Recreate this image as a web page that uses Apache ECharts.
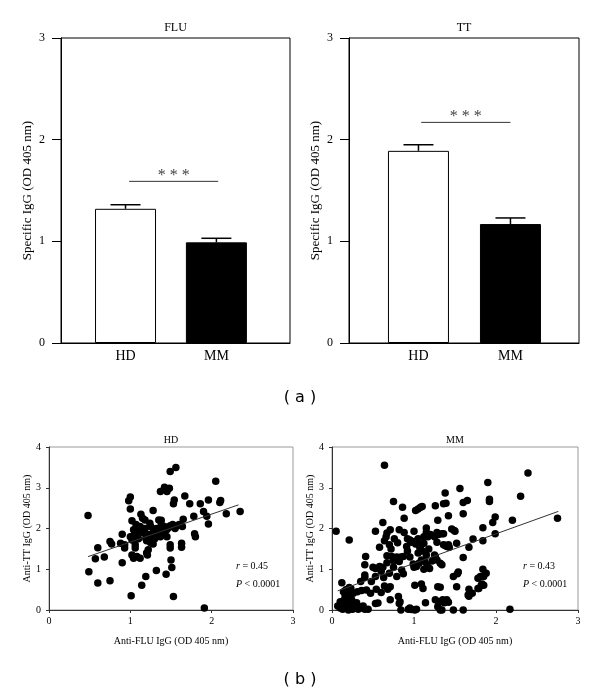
<!DOCTYPE html>
<html><head><meta charset="utf-8">
<script src="https://cdn.jsdelivr.net/npm/echarts@6/dist/echarts.min.js"></script>
<style>html,body{margin:0;padding:0;background:#fff}#c{width:600px;height:695px}</style>
</head><body><div id="c"></div>
<script>
// ---------- data ----------
const barCategories = ['HD', 'MM'];
const barPositions = [1, 2];
const fluMeans = [1.32, 0.99];
const fluErrTops = [1.36, 1.03];
const ttMeans = [1.89, 1.17];
const ttErrTops = [1.95, 1.23];
const fluSig = [1.04, 2.02, 1.59];   // from x, to x, level
const ttSig = [1.03, 2.00, 2.17];
const panelTitles = ['FLU', 'TT', 'HD', 'MM'];

const hdX = [0.48,0.49,0.57,0.60,0.60,0.68,0.75,0.75,0.77,0.88,0.90,0.90,0.93,0.93,0.98,1.00,1.00,1.01,1.02,1.02,1.02,1.04,1.04,1.06,1.06,1.08,1.08,1.12,1.13,1.14,1.14,1.18,1.19,1.19,1.21,1.22,1.24,1.26,1.28,1.28,1.32,1.35,1.37,1.37,1.40,1.42,1.44,1.45,1.48,1.49,1.49,1.49,1.49,1.50,1.51,1.53,1.53,1.54,1.56,1.57,1.63,1.63,1.65,1.67,1.73,1.78,1.79,1.80,1.86,1.90,1.91,1.94,1.96,1.96,2.05,2.10,2.11,2.18,2.35,
  1.05,1.10,1.12,1.15,1.18,1.20,1.22,1.25,1.28,1.30,1.32,1.35,1.38,1.40,1.42,1.44,1.46,1.50,1.52,1.55,1.60,1.10,1.15,1.25,1.45,1.38,1.00,1.07,1.64,1.20];
const hdY = [2.32,0.94,1.26,1.53,0.66,1.30,0.72,1.68,1.62,1.64,1.86,1.16,1.52,1.60,2.68,2.77,2.48,0.35,2.19,1.72,1.35,1.97,1.27,1.60,1.52,1.80,1.31,1.27,2.35,1.97,0.61,2.21,0.82,1.76,1.35,1.48,2.13,1.80,2.44,1.62,0.97,2.21,1.80,2.91,1.97,3.01,0.88,2.91,2.99,3.40,2.07,1.60,1.52,1.23,1.04,0.33,2.61,2.70,3.50,2.07,1.64,1.54,2.23,2.80,2.61,2.30,1.87,1.80,2.61,2.42,0.05,2.30,2.70,2.11,3.16,2.64,2.69,2.36,2.42,
  1.85,1.95,2.05,1.90,2.00,1.70,1.85,2.05,1.90,1.75,2.00,1.85,2.10,1.90,2.05,1.95,2.00,2.05,2.10,2.00,2.10,1.75,2.25,1.65,1.80,2.20,1.80,2.10,2.05,1.40];

const mmX = [0.05,0.21,0.12,0.64,0.62,0.75,0.86,0.88,0.53,0.58,0.67,0.71,0.82,0.88,1.00,1.02,1.05,1.08,1.10,1.26,1.36,1.39,1.38,1.56,1.60,1.65,1.60,1.29,1.42,1.90,1.92,1.92,2.30,2.39,2.20,1.99,1.96,2.75,1.99,1.84,1.84,1.72,1.67,1.52,1.49,1.40,1.43,1.36,1.28,1.28,1.15,1.15,1.17,1.12,1.09,1.07,1.02,0.95,0.97,0.91,0.87,0.79,0.73,0.75,0.67,0.62,0.58,0.53,0.41,0.40,0.40,0.40,0.53,0.67,0.82,0.79,0.85,0.87,0.99,1.03,1.09,1.13,1.16,1.19,1.26,1.28,1.32,1.01,1.09,1.11,1.14,1.32,1.40,1.37,1.26,1.29,1.32,1.48,1.53,1.52,1.60,1.48,1.60,1.67,1.66,1.78,1.83,1.85,1.84,1.85,1.88,2.17,1.01,0.97,0.93,0.84,0.82,0.71,0.68,0.71,0.64,0.60,0.54,0.53,0.47,0.42,0.36,0.31,0.26,0.44,0.33,0.30,
  0.07,0.10,0.12,0.13,0.15,0.15,0.16,0.17,0.18,0.18,0.19,0.20,0.20,0.21,0.21,0.22,0.22,0.24,0.25,0.26,0.28,0.30,0.32,0.35,0.38,0.40,0.14,0.17,0.10,
  0.66,0.64,0.70,0.76,0.80,0.72,0.92,1.00,1.05,1.12,1.20,1.25,1.30,1.36,0.78,0.84,1.00,1.06,1.12,1.22,1.25,1.29,0.81,0.83,0.95,1.03,1.30,1.35,
  1.34,1.46,1.50,1.38,1.42,1.34,1.54,1.81,1.78,1.82,1.79,1.71,1.67,1.36,1.42,1.34,
  0.50,0.60,0.23,0.56,0.48,0.35,0.63,0.70,0.75,0.92,0.95,1.05,1.10,1.18,1.15];
const mmY = [1.93,1.72,0.67,3.55,2.15,2.66,2.52,2.25,1.93,1.54,1.89,1.97,1.97,1.90,1.93,2.44,2.48,2.52,2.54,2.56,2.61,2.62,2.87,2.98,2.64,2.69,2.36,2.20,2.31,3.13,2.72,2.66,2.79,3.36,2.20,2.28,2.15,2.25,1.87,2.02,1.70,1.74,1.54,1.64,1.95,1.56,1.54,1.87,1.90,1.66,2.01,1.90,1.80,1.64,1.60,1.54,1.62,1.72,1.66,1.56,1.31,1.30,1.31,1.21,1.16,1.05,1.07,1.02,1.31,1.11,0.86,0.80,0.82,1.33,1.19,0.82,0.98,0.89,1.13,1.07,1.23,1.19,1.11,1.02,1.31,1.23,1.15,0.61,0.64,0.53,0.18,0.56,0.25,0.18,0.25,0.08,0.00,0.82,0.89,0.57,1.29,0.00,0.00,0.51,0.37,0.53,0.64,0.82,1.00,0.61,0.90,0.02,0.00,0.01,0.02,0.00,0.16,0.25,0.51,0.57,0.59,0.43,0.51,0.16,0.41,0.49,0.48,0.45,0.41,0.02,0.08,0.04,
  0.10,0.05,0.15,0.02,0.08,0.25,0.35,0.12,0.05,0.20,0.45,0.30,0.00,0.15,0.55,0.38,0.08,0.25,0.02,0.12,0.05,0.18,0.02,0.05,0.10,0.02,0.45,0.50,0.20,
  1.80,1.70,1.60,1.75,1.65,1.50,1.75,1.68,1.75,1.80,1.85,1.80,1.85,1.60,1.25,1.30,1.05,1.15,1.00,1.20,1.35,0.57,0.33,0.20,0.05,0.02,0.20,0.25,
  1.87,1.99,1.93,1.58,1.60,1.11,0.93,0.82,0.78,0.61,0.53,0.41,0.34,0.20,0.19,0.00,
  1.05,0.95,0.53,0.17,0.70,0.70,0.80,0.90,1.05,1.45,1.30,1.40,1.45,1.50,1.35];

const hdFit = [[0.48, 1.31], [2.33, 2.58]];
const mmFit = [[0.07, 0.47], [2.76, 2.42]];
const hdStats = ['0.45', '< 0.0001'];
const mmStats = ['0.43', '< 0.0001'];

// ---------- chart ----------
const SERIF = '"Liberation Serif", "Times New Roman", serif';
const chart = echarts.init(document.getElementById('c'), null, {renderer: 'canvas'});

function errRender(params, api) {
  const x = api.value(0), m = api.value(1), t = api.value(2);
  const p0 = api.coord([x, m]), p1 = api.coord([x, t]);
  const w = 15;
  return {type: 'group', children: [
    {type: 'line', shape: {x1: p0[0], y1: p0[1], x2: p1[0], y2: p1[1]}, style: {stroke: '#000', lineWidth: 1.5}},
    {type: 'line', shape: {x1: p1[0] - w, y1: p1[1], x2: p1[0] + w, y2: p1[1]}, style: {stroke: '#000', lineWidth: 1.5}}
  ]};
}
function sigRender(params, api) {
  const a = api.coord([api.value(0), api.value(2)]);
  const b = api.coord([api.value(1), api.value(2)]);
  return {type: 'group', children: [
    {type: 'line', shape: {x1: a[0], y1: a[1], x2: b[0], y2: b[1]}, style: {stroke: '#333', lineWidth: 1}},
    {type: 'text', x: (a[0] + b[0]) / 2, y: a[1] + 2,
     style: {text: '* * *', font: '16px ' + SERIF, fill: '#444', align: 'center', verticalAlign: 'bottom'}}
  ]};
}

function barAxisX(grid, min, max) {
  return {gridIndex: grid, type: 'value', min: min, max: max,
    axisLine: {show: true, lineStyle: {color: '#000', width: 1}},
    axisTick: {show: false}, splitLine: {show: false},
    axisLabel: {customValues: barPositions, formatter: v => barCategories[Math.round(v) - 1],
      fontFamily: SERIF, fontSize: 14, color: '#000', margin: 6}};
}
function barAxisY(grid) {
  return {gridIndex: grid, type: 'value', min: 0, max: 3, interval: 1,
    axisLine: {show: true, lineStyle: {color: '#000', width: 1}},
    axisTick: {show: true, inside: false, length: 9, lineStyle: {color: '#000'}},
    splitLine: {show: false},
    axisLabel: {fontFamily: SERIF, fontSize: 12, color: '#000', margin: 16},
    name: 'Specific IgG (OD 405 nm)', nameLocation: 'middle', nameGap: 27,
    nameTextStyle: {fontFamily: SERIF, fontSize: 13, color: '#000'}};
}
function scAxisX(grid) {
  return {gridIndex: grid, type: 'value', min: 0, max: 3, interval: 1,
    axisLine: {show: true, lineStyle: {color: '#333', width: 1}},
    axisTick: {show: true, length: 3, lineStyle: {color: '#333'}},
    splitLine: {show: false},
    axisLabel: {fontFamily: SERIF, fontSize: 10, color: '#000', margin: 6},
    name: 'Anti-FLU IgG (OD 405 nm)', nameLocation: 'middle', nameGap: 26,
    nameTextStyle: {fontFamily: SERIF, fontSize: 10, color: '#000'}};
}
function scAxisY(grid, gap) {
  return {gridIndex: grid, type: 'value', min: 0, max: 4, interval: 1,
    axisLine: {show: true, lineStyle: {color: '#333', width: 1}},
    axisTick: {show: true, length: 3, lineStyle: {color: '#333'}},
    splitLine: {show: false},
    axisLabel: {fontFamily: SERIF, fontSize: 10, color: '#000', margin: 8},
    name: 'Anti-TT IgG (OD 405 nm)', nameLocation: 'middle', nameGap: gap,
    nameTextStyle: {fontFamily: SERIF, fontSize: 10, color: '#000'}};
}

function barData(means) {
  return means.map((m, i) => ({
    value: [barPositions[i], m],
    itemStyle: i === 0 ? {color: '#fff', borderColor: '#000', borderWidth: 1} : {color: '#000', borderColor: '#000', borderWidth: 1}
  }));
}
function errData(means, tops) {
  return means.map((m, i) => [barPositions[i], m, tops[i]]);
}
function zip(xs, ys) { return xs.map((x, i) => [x, ys[i]]); }

function statText(x, y, stats) {
  return [
    {type: 'text', x: x, y: y, style: {text: '{i|r} = ' + stats[0], rich: {i: {fontStyle: 'italic', font: 'italic 10px ' + SERIF}},
      font: '10px ' + SERIF, fill: '#000', align: 'left', verticalAlign: 'middle'}},
    {type: 'text', x: x, y: y + 18, style: {text: '{i|P} ' + stats[1], rich: {i: {fontStyle: 'italic', font: 'italic 10px ' + SERIF}},
      font: '10px ' + SERIF, fill: '#000', align: 'left', verticalAlign: 'middle'}}
  ];
}
function centerText(x, y, text, font) {
  return {type: 'text', x: x, y: y, style: {text: text, font: font, fill: '#000', align: 'center', verticalAlign: 'middle'}};
}

const option = {
  backgroundColor: '#fff',
  animation: false,
  grid: [
    {left: 61, top: 38, width: 229, height: 305, show: true, borderColor: '#000', borderWidth: 1},
    {left: 349, top: 38, width: 230, height: 305, show: true, borderColor: '#000', borderWidth: 1},
    {left: 49, top: 447, width: 244, height: 163, show: true, borderColor: '#999', borderWidth: 1},
    {left: 332, top: 447, width: 246, height: 163, show: true, borderColor: '#999', borderWidth: 1}
  ],
  xAxis: [barAxisX(0, 0.29, 2.81), barAxisX(1, 0.245, 2.745), scAxisX(2), scAxisX(3)],
  yAxis: [barAxisY(0), barAxisY(1), scAxisY(2, 16), scAxisY(3, 12)],
  series: [
    {type: 'bar', xAxisIndex: 0, yAxisIndex: 0, barWidth: 61, data: barData(fluMeans), z: 2},
    {type: 'custom', xAxisIndex: 0, yAxisIndex: 0, renderItem: errRender, data: errData(fluMeans, fluErrTops), encode: {x: 0, y: [1, 2]}, z: 3},
    {type: 'custom', xAxisIndex: 0, yAxisIndex: 0, renderItem: sigRender, data: [fluSig], encode: {x: [0, 1], y: 2}, z: 3},
    {type: 'bar', xAxisIndex: 1, yAxisIndex: 1, barWidth: 61, data: barData(ttMeans), z: 2},
    {type: 'custom', xAxisIndex: 1, yAxisIndex: 1, renderItem: errRender, data: errData(ttMeans, ttErrTops), encode: {x: 0, y: [1, 2]}, z: 3},
    {type: 'custom', xAxisIndex: 1, yAxisIndex: 1, renderItem: sigRender, data: [ttSig], encode: {x: [0, 1], y: 2}, z: 3},
    {type: 'scatter', xAxisIndex: 2, yAxisIndex: 2, symbol: 'circle', symbolSize: 7.5, itemStyle: {color: '#000', opacity: 1}, data: zip(hdX, hdY)},
    {type: 'line', xAxisIndex: 2, yAxisIndex: 2, symbol: 'none', lineStyle: {color: '#333', width: 1}, data: hdFit, z: 3},
    {type: 'scatter', xAxisIndex: 3, yAxisIndex: 3, symbol: 'circle', symbolSize: 7.5, itemStyle: {color: '#000', opacity: 1}, data: zip(mmX, mmY)},
    {type: 'line', xAxisIndex: 3, yAxisIndex: 3, symbol: 'none', lineStyle: {color: '#333', width: 1}, data: mmFit, z: 3}
  ],
  graphic: [
    centerText(175.5, 28, panelTitles[0], '12px ' + SERIF),
    centerText(464, 28, panelTitles[1], '12px ' + SERIF),
    centerText(171, 440, panelTitles[2], '10px ' + SERIF),
    centerText(455, 440, panelTitles[3], '10px ' + SERIF),
    centerText(300, 398, '( a )', '16px "DejaVu Sans", sans-serif'),
    centerText(300, 680, '( b )', '16px "DejaVu Sans", sans-serif'),
    ...statText(236, 566, hdStats),
    ...statText(523, 566, mmStats)
  ]
};
chart.setOption(option);
</script>
</body></html>
